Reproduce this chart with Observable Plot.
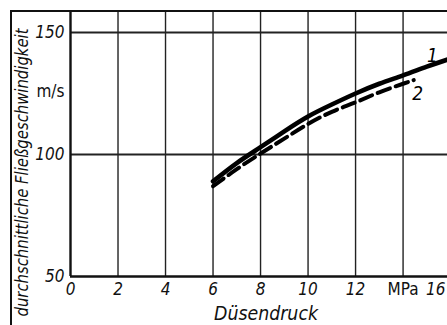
<!DOCTYPE html>
<html>
<head>
<meta charset="utf-8">
<script src="https://cdn.jsdelivr.net/npm/d3@7"></script>
<script src="https://cdn.jsdelivr.net/npm/@observablehq/plot@0.6"></script>
<style>
  html, body { margin: 0; padding: 0; background: #fff; }
  #wrap { position: relative; width: 447px; height: 325px; overflow: hidden; }
  #frame { position: absolute; left: 10px; top: 10px; width: 450px; height: 330px;
           border-top: 2px solid #111; border-left: 2px solid #111; }
  #chart { position: absolute; left: 0; top: 0; }
</style>
</head>
<body>
<div id="wrap"><div id="frame"></div><div id="chart"></div></div>
<script>
// Curve 1 (solid)
const pressure1 = [6, 7, 8, 9, 10, 11, 12, 13, 14, 15, 15.9];
const velocity1 = [89, 96.5, 103, 109.5, 115.6, 120.5, 125, 129, 132.4, 136, 139];
// Curve 2 (dashed)
const pressure2 = [6, 7, 8, 9, 10, 11, 12, 13, 14, 14.45];
const velocity2 = [87, 94, 100.4, 106.5, 112.5, 117.5, 121.4, 125.5, 129, 130.5];

const curveNames = ["1", "2"];
const curveLabelX = [15.24, 14.61];
const curveLabelY = [140.6, 125];

const xTicks = [0, 2, 4, 6, 8, 10, 12, 14];
const xTickLabels = ["0", "2", "4", "6", "8", "10", "12", "MPa"];
const xGrid = [2, 4, 6, 8, 10, 12, 14];
const yTicks = [50, 100, 126, 150];
const yTickLabels = ["50", "100", "m/s", "150"];
const yGrid = [100, 150];
const xEdgeTick = [16];
const xEdgeLabel = ["16"];

const xTitle = "Düsendruck";
const yTitle = "durchschnittliche Fließgeschwindigkeit";
const unitLabels = ["m/s", "MPa"];

const d1 = pressure1.map((p, i) => ({p, v: velocity1[i]}));
const d2 = pressure2.map((p, i) => ({p, v: velocity2[i]}));
const labels = curveNames.map((n, i) => ({n, x: curveLabelX[i], y: curveLabelY[i]}));
const xLab = new Map(xTicks.map((t, i) => [t, xTickLabels[i]]));
const yLab = new Map(yTicks.map((t, i) => [t, yTickLabels[i]]));

const font = '"DejaVu Sans Condensed", "Liberation Sans Narrow", "DejaVu Sans", sans-serif';

const chart = Plot.plot({
  width: 447,
  height: 325,
  marginLeft: 70,
  marginRight: 0,
  marginTop: 12,
  marginBottom: 49,
  style: {fontFamily: font, fontSize: "17px", fontStyle: "italic", color: "#111", background: "transparent", overflow: "visible"},
  x: {domain: [0, 15.87], ticks: xTicks, tickFormat: d => xLab.get(d), tickSize: 0, tickPadding: 6, label: null},
  y: {domain: [50, 158.2], ticks: yTicks, tickFormat: d => yLab.get(d), tickSize: 0, tickPadding: 6, label: null},
  marks: [
    Plot.ruleX(xGrid, {stroke: "#222", strokeWidth: 1.4}),
    Plot.ruleY(yGrid, {stroke: "#222", strokeWidth: 1.8}),
    Plot.ruleX([0], {stroke: "#111", strokeWidth: 2.4}),
    Plot.ruleY([50], {stroke: "#111", strokeWidth: 2.4}),
    Plot.line(d1, {x: "p", y: "v", curve: "natural", stroke: "#000", strokeWidth: 4.6}),
    Plot.line(d2, {x: "p", y: "v", curve: "natural", stroke: "#000", strokeWidth: 4, strokeDasharray: "13,6"}),
    Plot.text(labels, {x: "x", y: "y", text: "n", fontSize: 19, fill: "#000"}),
    Plot.text(xEdgeTick, {x: d => d, text: (d, i) => xEdgeLabel[i], frameAnchor: "bottom", textAnchor: "end", lineAnchor: "top", dy: 6, dx: -5, fontSize: 17}),
    Plot.text([xTitle], {frameAnchor: "bottom", textAnchor: "middle", lineAnchor: "middle", dy: 37, dx: 7, fontSize: 20}),
    Plot.text([yTitle], {frameAnchor: "left", textAnchor: "middle", rotate: -90, lineAnchor: "middle", dx: -48, dy: 28, fontSize: 17})
  ]
});
document.getElementById("chart").appendChild(chart);

// Condense the long hand-lettered titles to the reference's widths; unit labels upright
d3.select(chart).selectAll("text").each(function() {
  const t = this.textContent;
  if (t === yTitle) d3.select(this).attr("textLength", 288).attr("lengthAdjust", "spacingAndGlyphs");
  if (t === xTitle) d3.select(this).attr("textLength", 104).attr("lengthAdjust", "spacingAndGlyphs");
  if (unitLabels.includes(t)) d3.select(this).style("font-style", "normal");
});
</script>
</body>
</html>
